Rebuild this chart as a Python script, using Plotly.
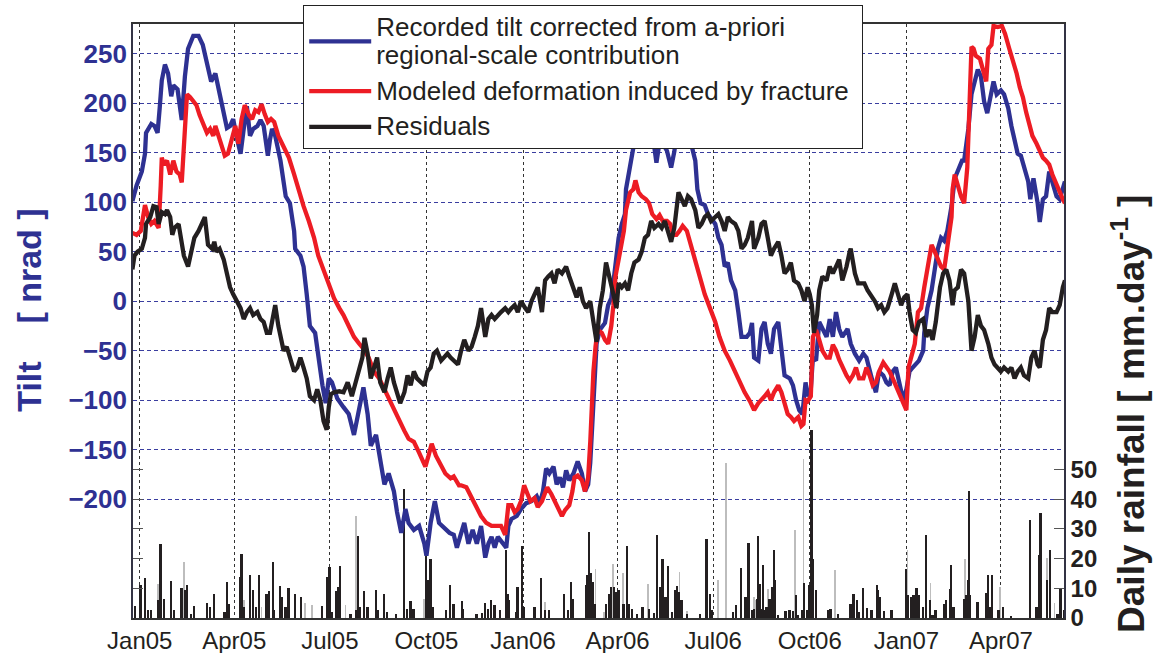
import pandas as pd
import plotly.graph_objects as go

BASE_DATE = pd.Timestamp("2005-01-01")
X_RANGE = ["2004-12-25 14:00", "2007-05-31 02:00"]

TICK_DATES = ["2005-01-01", "2005-04-01", "2005-07-01", "2005-10-01", "2006-01-01",
              "2006-04-01", "2006-07-01", "2006-10-01", "2007-01-01", "2007-04-01"]
TICK_LABELS = ["Jan05", "Apr05", "Jul05", "Oct05", "Jan06", "Apr06", "Jul06", "Oct06", "Jan07", "Apr07"]
TILT_TICKS = [-200, -150, -100, -50, 0, 50, 100, 150, 200, 250]
RAIN_TICKS = [0, 10, 20, 30, 40, 50]

SERIES_NAMES = [["Recorded tilt corrected from a-priori", "regional-scale contribution"],
                ["Modeled deformation induced by fracture\u00a0"],
                ["Residuals"]]

# ---- Recorded tilt (days since 2005-01-01, nrad) ----
BLUE_DAY = [-7, -3, 2, 5, 6, 11, 14, 17, 19, 21, 24, 27, 30, 32, 36, 40, 43, 46, 51, 56,
            60, 64, 68, 72, 75, 80, 83, 86, 89, 92, 96, 99, 102, 105, 108, 112, 115, 118, 122, 124,
            126, 129, 134, 139, 143, 147, 148, 153, 156, 159, 162, 167, 170, 174, 177, 180, 183, 188, 194, 199,
            204, 209, 213, 217, 220, 225, 228, 233, 237, 242, 245, 249, 253, 256, 261, 266, 271, 273, 277, 281,
            285, 290, 295, 299,
            302, 305, 309, 313, 317, 321, 325, 329, 332, 335, 338, 341, 346, 349, 351, 354, 359, 363, 368, 373,
            378, 381, 384, 387, 390, 394, 397, 400, 403, 406, 409, 413, 417, 421, 424, 427, 429, 431, 433, 435,
            438, 443, 446, 449, 452, 456, 459, 462, 463, 467, 469, 471, 475, 478, 482, 486, 489, 492, 495, 498,
            502, 506, 509, 512, 516, 521, 525, 529, 531, 534, 538, 541, 544, 548, 551, 554, 557, 560, 563, 567,
            570, 573, 578, 581, 583,
            585, 589, 592, 595, 598, 601, 604, 608, 611, 614, 619, 622, 625, 628, 631, 634, 636, 639, 641, 644,
            647, 650, 654, 657, 660, 663, 666, 669, 674, 677, 681, 685, 689, 692, 695, 698, 701, 704, 708, 711,
            714, 717, 720, 723, 727, 730, 733, 736, 739, 742, 746, 747, 750, 754, 757, 760, 763, 766, 769, 773,
            776, 779, 783, 785, 789, 792, 795, 798, 801, 804, 807, 810, 813, 816, 820, 823, 827, 830, 833, 836,
            839, 842, 846, 848, 851, 855, 857, 860, 863, 866, 869, 873, 876, 879, 881]
BLUE_VAL = [101, 117, 131, 149, 170, 179, 177, 170, 195, 223, 239, 230, 207, 218, 214, 183, 227, 255, 268, 268,
            259, 241, 222, 230, 216, 188, 175, 177, 184, 167, 149, 174, 197, 167, 174, 177, 183, 177, 147, 163,
            174, 167, 142, 106, 99, 71, 53, 46, 35, 7, -25, -32, -57, -85, -103, -78, -82, -98, -107, -114,
            -135, -110, -87, -114, -146, -135, -153, -185, -174, -192, -213, -234, -210, -224, -231, -227, -245, -257, -224, -202,
            -224, -229, -234, -236,
            -249, -238, -224, -245, -231, -245, -227, -259, -245, -238, -249, -238, -245, -249, -227, -220, -217, -210, -204, -202,
            -197, -204, -192, -169, -174, -167, -185, -178, -188, -171, -181, -174, -162, -174, -192, -185, -163, -124, -71, -43,
            -29, -22, -4, 3, 28, 64, 78, 88, 113, 135, 149, 161, 158, 161, 163, 170, 163, 140, 161, 159,
            152, 135, 151, 174, 177, 168, 159, 142, 113, 99, 97, 88, 83, 78, 64, 57, 35, 39, 21, 11,
            -11, -36, -36, -32, -22,
            -57, -60, -28, -21, -43, -53, -28, -21, -46, -75, -78, -85, -100, -110, -114, -82, -96, -89, -57, -60,
            -21, -28, -36, -18, -36, -11, -28, -36, -28, -43, -53, -60, -53, -57, -71, -82, -92, -71, -75, -82,
            -85, -71, -67, -82, -100, -89, -71, -67, -64, -60, -50, -32, -7, 11, 32, 53, 64, 61, 71, 96,
            124, 131, 142, 142, 174, 209, 223, 234, 227, 202, 190, 206, 222, 209, 213, 209, 195, 177, 163, 149,
            147, 135, 121, 103, 124, 99, 80, 103, 106, 131, 121, 106, 103, 113, 121]

# ---- Modeled deformation ----
RED_DAY = [-7, -3, 1, 3, 5, 8, 11, 14, 18, 20, 21, 23, 26, 29, 32, 35, 38, 40, 43, 45,
           48, 51, 54, 57, 61, 64, 67, 70, 72, 75, 78, 81, 84, 88, 91, 94, 97, 100, 104, 107,
           110, 113, 116, 119, 122, 125, 128, 132, 137, 142, 147, 151, 156, 161, 166, 170, 175, 180, 185, 190,
           194, 199, 204, 209, 213, 218, 223, 228, 233, 237, 242, 247, 252, 256, 261, 266, 272, 275, 278, 282,
           287, 291, 296, 299, 304,
           306, 311, 316, 321, 325, 330, 335, 340, 344, 348, 351, 354, 357, 360, 363, 366, 369, 372, 376, 379,
           383, 386, 388, 392, 395, 398, 402, 405, 409, 412, 414, 417, 421, 424, 427, 429, 430, 432, 434, 436,
           440, 443, 446, 449, 451, 453, 456, 459, 461, 463, 467, 470, 472, 475, 478, 482, 485, 488, 492, 495,
           498, 502, 505, 508, 511, 514, 517, 521, 524, 529, 533, 538, 543, 548, 552, 557, 562, 567, 571, 576,
           581,
           585, 589, 592, 595, 598, 601, 604, 608, 611, 614, 617, 620, 623, 627, 630, 632, 634, 636, 639, 641,
           644, 647, 650, 654, 657, 660, 663, 666, 669, 673, 676, 679, 682, 685, 689, 692, 695, 698, 701, 704,
           708, 711, 714, 717, 720, 723, 727, 730, 732, 735, 738, 741, 744, 747, 750, 754, 757, 760, 763, 766,
           769, 773, 774, 776, 779, 782, 785, 788, 790, 792, 794, 796, 800, 803, 806, 808, 811, 813, 817, 821,
           824, 828, 831, 835, 838, 841, 844, 847, 850, 854, 857, 860, 863, 866, 869, 873, 876, 879, 881]
RED_VAL = [69, 67, 71, 87, 97, 85, 78, 81, 74, 117, 145, 138, 142, 128, 142, 131, 128, 120, 170, 209,
           206, 202, 198, 188, 177, 170, 174, 167, 177, 167, 156, 147, 149, 167, 177, 159, 184, 198, 188, 184,
           193, 191, 199, 189, 181, 184, 181, 167, 156, 145, 128, 113, 96, 81, 64, 46, 32, 18, 3, -7,
           -14, -25, -36, -43, -48, -57, -71, -78, -89, -100, -110, -121, -131, -139, -142, -153, -167, -156, -144, -156,
           -167, -174, -179, -177, -186,
           -186, -188, -199, -210, -217, -224, -227, -227, -227, -236, -206, -206, -213, -210, -202, -186, -195, -202, -199, -208,
           -202, -192, -188, -195, -202, -210, -217, -211, -206, -192, -178, -176, -181, -192, -178, -142, -107, -71, -46, -29,
           -32, -39, -43, -25, -4, 25, 42, 60, 71, 92, 110, 113, 122, 110, 106, 103, 99, 88, 83, 87,
           81, 81, 78, 67, 67, 71, 76, 71, 60, 42, 25, 7, -7, -21, -36, -50, -60, -71, -82, -92,
           -101,
           -110, -103, -100, -96, -92, -100, -92, -85, -92, -103, -114, -117, -121, -117, -126, -124, -100, -101, -96, -36,
           -29, -39, -50, -57, -57, -44, -50, -59, -67, -75, -80, -75, -67, -78, -78, -67, -75, -85, -82, -71,
           -62, -66, -71, -78, -85, -92, -103, -110, -67, -53, -43, -11, -7, 14, 35, 57, 50, 42, 35, 32,
           53, 85, 113, 128, 117, 106, 99, 135, 195, 257, 255, 248, 245, 234, 222, 255, 259, 278, 277, 278,
           270, 255, 245, 230, 216, 206, 191, 177, 167, 159, 151, 145, 142, 138, 128, 117, 110, 103, 99]

# ---- Residuals ----
RES_DAY = [-7, -5, -2, 2, 5, 6, 10, 13, 16, 18, 21, 24, 26, 29, 31, 33, 37, 40, 42, 46,
           49, 52, 56, 59, 62, 65, 69, 71, 73, 76, 80, 83, 86, 89, 92, 96, 99, 102, 105, 108,
           112, 115, 118, 121, 124, 127, 129, 132, 134, 137, 140, 143, 147, 150, 153, 156, 159, 162, 166, 169,
           172, 175, 178, 180, 182, 185, 190, 194, 198, 202, 205, 209, 212, 214, 217, 220, 223, 226, 229, 233,
           236, 239, 242, 245, 248, 252, 255, 258, 261, 264, 268, 271, 274, 277, 280, 283, 287, 290, 293, 296,
           299, 303,
           306, 309, 313, 316, 319, 322, 325, 329, 332, 335, 338, 341, 344, 348, 351, 354, 357, 360, 363, 367,
           370, 373, 376, 379, 383, 386, 389, 392, 395, 398, 402, 406, 409, 413, 416, 419, 422, 425, 429, 432,
           435, 438, 441, 444, 448, 451, 454, 456, 459, 462, 465, 468, 471, 475, 478, 481, 484, 487, 490, 494,
           497, 500, 503, 506, 509, 513, 516, 519, 522, 525, 529, 532, 535, 538, 541, 544, 548, 551, 554, 557,
           560, 563, 567, 570, 573, 576, 579, 583,
           585, 589, 592, 595, 598, 601, 604, 608, 611, 614, 617, 620, 623, 627, 630, 633, 636, 638, 640, 642,
           645, 647, 650, 654, 657, 660, 663, 666, 669, 673, 676, 677, 681, 684, 687, 690, 693, 696, 700, 703,
           706, 709, 712, 716, 719, 722, 725, 728, 731, 733, 736, 739, 742, 746, 749, 752, 755, 758, 762, 765,
           768, 771, 774, 776, 779, 782, 785, 789, 792, 795, 798, 801, 804, 808, 811, 814, 817, 820, 823, 827,
           830, 833, 836, 839, 842, 846, 849, 852, 855, 857, 860, 863, 866, 869, 873, 876, 879, 881]
RES_VAL = [32, 46, 50, 53, 64, 78, 85, 96, 95, 78, 90, 88, 92, 85, 67, 74, 78, 60, 46, 35,
           50, 64, 71, 78, 85, 57, 53, 60, 50, 53, 42, 28, 14, 7, 0, -7, -18, -11, -7, -14,
           -11, -18, -21, -32, -32, -11, -4, -25, -36, -50, -46, -57, -71, -67, -57, -67, -78, -96, -100, -89,
           -100, -121, -130, -107, -94, -92, -91, -92, -82, -96, -85, -71, -57, -37, -53, -78, -67, -57, -82, -92,
           -78, -67, -82, -92, -103, -92, -75, -85, -71, -78, -82, -85, -71, -67, -53, -50, -60, -57, -53, -57,
           -60, -64,
           -50, -39, -50, -46, -36, -25, -7, -36, -18, -14, -18, -14, -11, -7, -11, -7, -4, -11, 0, -7,
           -11, 0, 7, 14, -11, 21, 25, 28, 18, 32, 28, 35, 25, 11, 4, 14, 0, -7, 0, -21,
           -41, -7, 11, 39, 21, 7, -7, 18, 14, 18, 11, 28, 39, 42, 50, 64, 67, 81, 74, 78,
           74, 81, 71, 60, 74, 110, 103, 96, 106, 103, 92, 74, 78, 85, 88, 81, 85, 88, 81, 71,
           85, 81, 78, 71, 53, 57, 64, 81,
           53, 64, 78, 81, 64, 46, 53, 60, 46, 28, 32, 39, 21, 18, 11, 0, 14, 7, -4, -32,
           -14, 11, 25, 21, 35, 28, 35, 42, 21, 35, 50, 53, 28, 18, 18, 18, 11, 7, 0, -7,
           -4, -11, -7, 7, 18, 7, -4, 4, 7, -11, -29, -32, -21, -18, -36, -29, -39, -21, 14, 28,
           32, 21, -4, 11, 14, 32, 28, 0, -50, -36, -14, -25, -29, -43, -57, -64, -67, -71, -67, -71,
           -67, -78, -71, -67, -75, -78, -57, -50, -64, -67, -39, -29, -7, -11, -11, -4, 14, 21]

# ---- Daily rainfall (mm/day): main gauge (black) and second gauge (grey) ----
RAIN_DAY = [-4, 1, 5, 8, 11, 18, 20, 23, 30, 33, 40, 43, 45, 49, 52, 64, 67, 71, 81, 83,
            85, 96, 97, 99, 105, 108, 111, 114, 121, 123, 127, 128, 134, 136, 139, 142, 148, 154, 174, 179,
            181, 183, 187, 189, 191, 201, 206, 208, 210, 214, 217, 225, 227, 233, 236, 244, 252, 255, 258, 261,
            273, 275, 277, 279, 292,
            296, 299, 307, 308, 321, 326, 329, 332, 335, 338, 343, 349, 351, 352, 359, 360, 364, 366, 376, 382,
            386, 390, 404, 408, 411, 413, 425, 426, 428, 430, 432, 434, 444, 447, 449, 452, 454, 456, 461, 464,
            466, 469, 474, 479, 485, 490, 493, 496, 498, 501, 503, 507, 510, 512, 514, 516, 521, 534, 540, 543,
            545, 565, 568, 573, 577, 580,
            583, 585, 588, 589, 591, 593, 594, 596, 597, 600, 602, 604, 605, 608, 615, 619, 622, 625, 627, 631,
            633, 636, 638, 640, 641, 644, 656, 658, 665, 677, 680, 683, 685, 689, 693, 697, 702, 703, 705, 709,
            716, 730, 732, 735, 737, 740, 742, 746, 749, 753, 755, 758, 766, 768, 772, 773, 775, 785, 787, 789,
            790, 791, 798, 806, 808, 810, 812, 818, 822, 830, 848, 854, 857, 858, 864, 867, 874, 877, 880]
RAIN_MM = [4, 11, 13.5, 2.6, 2.6, 6, 25, 6.5, 12.4, 2.6, 10, 9.3, 11.2, 1.5, 4, 5, 3.7, 8.2, 2, 12,
           4.8, 13.8, 21.7, 3.7, 14.6, 9.3, 3.7, 14.6, 8.2, 9, 18.7, 2.6, 10.9, 7, 3.7, 10, 8.2, 7, 4, 13.8,
           17.2, 2, 9, 10.4, 17.4, 1.5, 2.6, 27.5, 3.7, 9, 3.7, 9.3, 2.6, 8.2, 2, 1.5, 43.3, 3.2, 5.6, 3.2,
           21, 12.7, 19.8, 3.7, 2.6,
           11, 4.8, 5.6, 3, 1.2, 1.7, 5, 3, 6, 4.3, 2.6, 22.8, 8, 6, 2, 10.4, 24.2, 3.7, 3.7, 13.5,
           2.6, 2.6, 8, 2.6, 12.1, 6.5, 11, 14.4, 29, 15, 12.1, 4.8, 4.8, 8.2, 10.4, 10.4, 8.8, 9.3, 4.8, 24.2,
           4.8, 3.2, 1.5, 3.7, 3.2, 1.7, 27.9, 10.4, 20, 7, 17.5, 2, 9.3, 10.8, 8.8, 6, 1.5, 1.5, 26.7, 8.2,
           2.6, 2, 4.3, 16.9, 7, 25.4,
           2.6, 3.2, 6.5, 27.5, 11.3, 3.2, 18, 2.6, 3.7, 6.5, 10.4, 22.8, 12.7, 1, 2.2, 2.8, 2.2, 7.6, 1, 2.6,
           11.9, 2.8, 11, 63.3, 19.7, 9.3, 2.6, 3, 1.2, 4.6, 8, 6, 2, 10.2, 3.4, 2.6, 11, 9.3, 7.1, 2.2,
           2.8, 16.5, 7.6, 7.1, 7.9, 10.2, 7.6, 3.7, 27.9, 6, 1, 2.6, 4.6, 6, 9.9, 18, 3.7, 6.3, 7.6, 12.7,
           42.7, 7.6, 5.4, 8.4, 14.6, 3.7, 14.4, 2.8, 3.7, 0.5, 33.1, 3.7, 21.1, 35.5, 12.7, 22.8, 1.5, 10.1, 2.6]
RAIN2_DAY = [17, 42, 99, 116, 157, 164, 196, 206, 271,
             386, 434, 442, 451, 460, 484, 514, 521, 551, 558,
             585, 587, 598, 624, 632, 662, 731, 753, 786, 819, 864, 871]
RAIN2_MM = [11.6, 18.7, 6, 3.7, 5, 4.3, 4.3, 34.3, 6.5,
            5.4, 16.6, 2, 18.3, 15, 11.6, 15.5, 2.5, 12.9, 52.2,
            7.1, 6, 9.9, 29.6, 53.4, 16.3, 22.8, 11.9, 19.7, 10.4, 20.3, 5]


def to_dates(days):
    return [BASE_DATE + pd.Timedelta(days=float(d)) for d in days]


def legend_label(lines):
    return "<br>".join('<span style="font-size:26px">%s</span>' % ln for ln in lines)


BLUE = "#2e3192"
RED = "#ed1c24"
BLACK = "#231f20"
FONT = "Liberation Sans, Arial, Helvetica, sans-serif"
DAY_MS = 86400000
LINE_W = 4.3

fig = go.Figure()
fig.add_trace(go.Bar(x=to_dates(RAIN2_DAY), y=RAIN2_MM, width=DAY_MS * 0.8,
                     marker=dict(color="#bdbdbd", line=dict(width=0)), yaxis="y", showlegend=False,
                     hoverinfo="skip"))
fig.add_trace(go.Bar(x=to_dates(RAIN_DAY), y=RAIN_MM, width=DAY_MS * 1.7,
                     marker=dict(color=BLACK, line=dict(width=0)), yaxis="y", showlegend=False,
                     hoverinfo="skip"))
for (days, vals, colour, lines, grp) in [(BLUE_DAY, BLUE_VAL, BLUE, SERIES_NAMES[0], "g1"),
                                          (RED_DAY, RED_VAL, RED, SERIES_NAMES[1], "g2"),
                                          (RES_DAY, RES_VAL, BLACK, SERIES_NAMES[2], "g3")]:
    fig.add_trace(go.Scatter(x=to_dates(days), y=vals, yaxis="y2", mode="lines",
                             line=dict(color=colour, width=LINE_W), legendgroup=grp,
                             name=legend_label(lines)))

fig.update_layout(
    width=1153, height=653,
    margin=dict(l=133, r=89, t=24, b=35, autoexpand=False),
    paper_bgcolor="white", plot_bgcolor="white",
    barmode="overlay", bargap=0,
    font=dict(family=FONT, color=BLACK),
    xaxis=dict(type="date", range=X_RANGE, tickvals=TICK_DATES, ticktext=TICK_LABELS,
               showgrid=True, gridcolor="#333333", griddash="dot", gridwidth=1,
               showline=True, linecolor="#333333", linewidth=1.5, mirror=True, automargin=False,
               ticks="", tickfont=dict(family=FONT, size=24, color=BLACK), zeroline=False),
    yaxis=dict(range=[0, 200], side="right", tickvals=RAIN_TICKS, showgrid=False, zeroline=False,
               showline=True, linecolor="#333344", linewidth=1.5, mirror="ticks", automargin=False,
               ticks="inside", ticklen=10, tickwidth=1.2, tickcolor="#555555",
               tickfont=dict(family=FONT, size=24, color=BLACK, weight="bold")),
    yaxis2=dict(range=[-320, 280], overlaying="y", side="left", tickvals=TILT_TICKS,
                showgrid=True, gridcolor="#3a3ea0", griddash="4px,3px", gridwidth=1, automargin=False,
                zeroline=False, showline=False, ticks="", ticklabelstandoff=5,
                tickfont=dict(family=FONT, size=26, color=BLUE, weight="bold")),
    legend=dict(x=0.1826, y=1.032, xanchor="left", yanchor="top",
                bgcolor="white", bordercolor="#222222", borderwidth=1.2,
                font=dict(family=FONT, size=22, color=BLACK),
                itemwidth=62, tracegroupgap=4, traceorder="grouped"),
    annotations=[
        dict(text="Tilt\u00a0\u00a0\u00a0\u00a0[ nrad ]", textangle=-90, xref="paper", yref="paper",
             x=-0.112, y=0.5185, xanchor="center", yanchor="middle", showarrow=False,
             font=dict(family=FONT, size=34, color=BLUE, weight="bold")),
        dict(text="Daily rainfall [ mm.day<sup>-1</sup> ]", textangle=-90, xref="paper", yref="paper",
             x=1.0698, y=0.3435, xanchor="center", yanchor="middle", showarrow=False,
             font=dict(family=FONT, size=37, color=BLACK, weight="bold")),
    ],
)

fig.write_html("out.html", config={"displayModeBar": False},
               post_script="document.body.style.margin='0';document.body.style.padding='0';"
                           "document.body.style.overflow='hidden';")
